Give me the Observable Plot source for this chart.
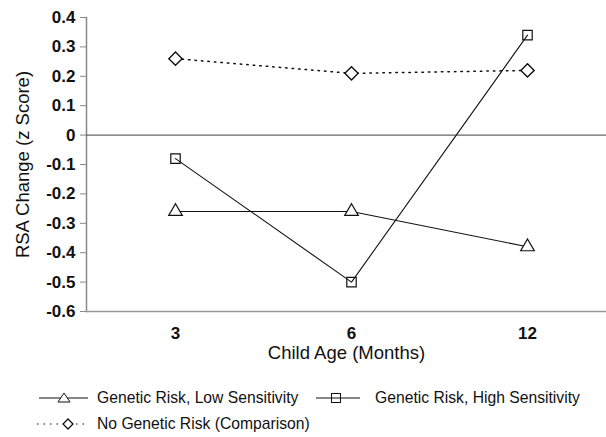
<!DOCTYPE html>
<html>
<head>
<meta charset="utf-8">
<script src="https://cdn.jsdelivr.net/npm/d3@7"></script>
<script src="https://cdn.jsdelivr.net/npm/@observablehq/plot@0.6"></script>
<style>
  html, body { margin: 0; padding: 0; background: #fff; }
  body { width: 606px; height: 437px; overflow: hidden; font-family: "Liberation Sans", Arial, sans-serif; }
  #legend { font-size: 15.7px; color: #111; position: relative; height: 65px; }
  .item { position: absolute; display: flex; align-items: center; white-space: nowrap; height: 20px; }
</style>
</head>
<body>
<div id="chart"></div>
<div id="legend"></div>
<script>
const ages = ["3", "6", "12"];
const lowSensitivity = [-0.26, -0.26, -0.38];
const highSensitivity = [-0.08, -0.50, 0.34];
const noRisk = [0.26, 0.21, 0.22];
const yTicks = [-0.6, -0.5, -0.4, -0.3, -0.2, -0.1, 0, 0.1, 0.2, 0.3, 0.4];

const seriesNames = ["Genetic Risk, Low Sensitivity", "Genetic Risk, High Sensitivity", "No Genetic Risk (Comparison)"];
const seriesValues = [lowSensitivity, highSensitivity, noRisk];
const data = seriesNames.flatMap((s, i) => ages.map((a, j) => ({series: s, age: a, value: seriesValues[i][j]})));
const low = data.filter(d => d.series === seriesNames[0]);
const high = data.filter(d => d.series === seriesNames[1]);
const none = data.filter(d => d.series === seriesNames[2]);

const plot = Plot.plot({
  width: 606,
  height: 372,
  marginLeft: 86,
  marginRight: 0,
  marginTop: 17,
  marginBottom: 61,
  style: {fontFamily: "Liberation Sans, Arial, sans-serif", background: "#fff", color: "#111"},
  x: {type: "point", domain: ages, range: [175, 527], padding: 0},
  y: {domain: [-0.6, 0.4]},
  marks: [
    Plot.frame({anchor: "left", stroke: "#888", strokeWidth: 1.5}),
    Plot.ruleY([-0.6], {stroke: "#999", strokeWidth: 1.5}),
    Plot.ruleY([0], {stroke: "#666", strokeWidth: 1.3}),
    Plot.axisY({ticks: yTicks, tickSize: 6, tickPadding: 5, stroke: "#888",
      tickFormat: d => d === 0 ? "0" : d.toFixed(1), fontSize: 17, fontWeight: "bold", label: null}),
    Plot.text(["RSA Change (z Score)"], {frameAnchor: "left", textAnchor: "middle", dx: -63, rotate: -90, fontSize: 18.5, fill: "#111"}),
    Plot.axisX({tickSize: 0, tickPadding: 15, fontSize: 17, fontWeight: "bold", label: null}),
    Plot.text(["Child Age (Months)"], {frameAnchor: "bottom", dy: 47, fontSize: 18.5, fill: "#111"}),
    Plot.line(low, {x: "age", y: "value", stroke: "#111", strokeWidth: 1.1}),
    Plot.line(high, {x: "age", y: "value", stroke: "#111", strokeWidth: 1.1}),
    Plot.line(none, {x: "age", y: "value", stroke: "#111", strokeWidth: 1.5, strokeDasharray: "1.5,5"}),
    Plot.dot(low, {x: "age", y: "value", symbol: "triangle2", r: 6.5, stroke: "#111", fill: "white", strokeWidth: 1.2}),
    Plot.dot(high, {x: "age", y: "value", symbol: "square2", r: 6, stroke: "#111", fill: "none", strokeWidth: 1.2}),
    Plot.dot(none, {x: "age", y: "value", symbol: "diamond2", r: 6, stroke: "#111", fill: "white", strokeWidth: 1.4})
  ]
});
document.getElementById("chart").appendChild(plot);

// Legend
const legendItems = [
  {name: seriesNames[0], left: 39, top: 26, w: 49, mx: 25, gap: 9, marker: "tri", dash: null},
  {name: seriesNames[1], left: 316, top: 26, w: 44, mx: 20, gap: 15, marker: "sq", dash: null},
  {name: seriesNames[2], left: 37, top: 52, w: 50, mx: 31, gap: 10, marker: "dia", dash: "1.5,5"}
];
const legend = document.getElementById("legend");
for (const it of legendItems) {
  const div = document.createElement("div");
  div.className = "item";
  div.style.left = it.left + "px";
  div.style.top = (it.top - 10) + "px";
  const c = it.mx, cy = 10;
  let m;
  if (it.marker === "tri") m = `<path d="M${c},${cy-5} L${c+6},${cy+4} L${c-6},${cy+4} Z" fill="white" stroke="#111" stroke-width="1"/>`;
  else if (it.marker === "sq") m = `<rect x="${c-4.5}" y="${cy-4.5}" width="9" height="9" fill="none" stroke="#111" stroke-width="1"/>`;
  else m = `<path d="M${c},${cy-5} L${c+5},${cy} L${c},${cy+5} L${c-5},${cy} Z" fill="white" stroke="#111" stroke-width="1.3"/>`;
  const line = `<line x1="0" x2="${it.w}" y1="${cy}" y2="${cy}" stroke="#111" stroke-width="1" ${it.dash ? `stroke-dasharray="${it.dash}"` : ""}/>`;
  div.innerHTML = `<svg width="${it.w}" height="20" style="margin-right:${it.gap}px">${line}${m}</svg><span>${it.name}</span>`;
  legend.appendChild(div);
}
</script>
</body>
</html>
